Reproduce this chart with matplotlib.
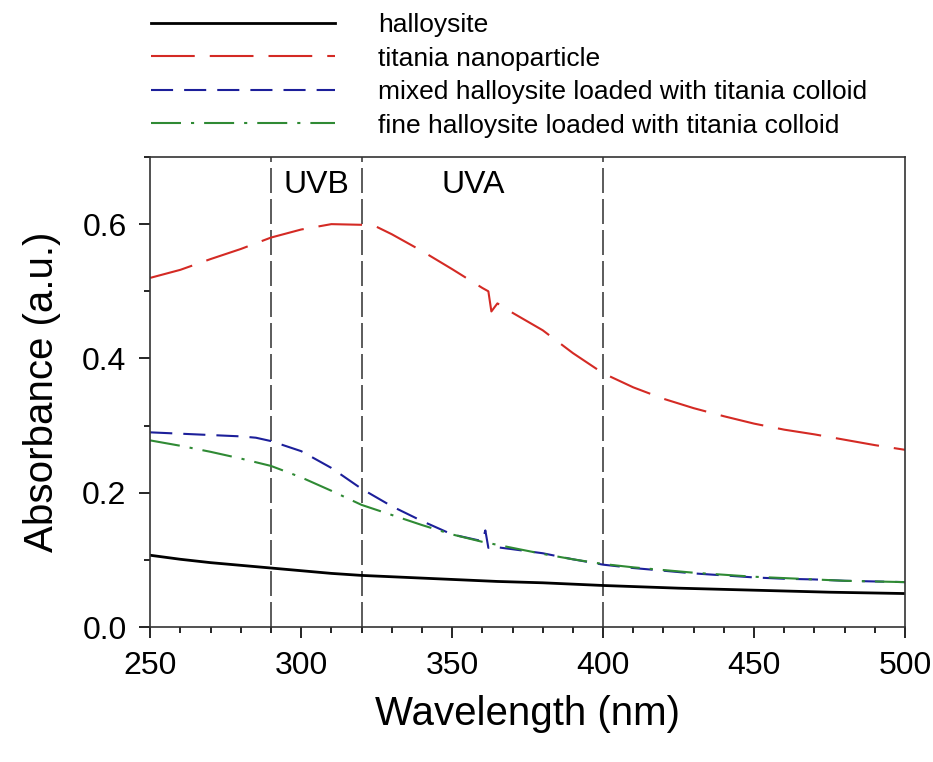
import matplotlib
matplotlib.use("Agg")
import matplotlib.pyplot as plt
from matplotlib.ticker import MultipleLocator

plt.rcParams['font.family'] = ['Liberation Sans', 'DejaVu Sans']

# halloysite
wl_hal = [250, 260, 270, 280, 290, 300, 310, 320, 335, 350, 365, 380, 400, 425, 450, 475, 500]
abs_hal = [0.107, 0.101, 0.096, 0.092, 0.088, 0.084, 0.080, 0.077, 0.074, 0.071, 0.068, 0.066, 0.062,
           0.058, 0.055, 0.052, 0.050]

# titania nanoparticle
wl_tio = [250, 260, 270, 280, 290, 300, 310, 320, 325, 330, 340, 350, 360, 362, 363, 365, 370, 380,
          390, 400, 410, 420, 430, 440, 450, 460, 470, 480, 490, 500]
abs_tio = [0.520, 0.532, 0.548, 0.563, 0.580, 0.592, 0.600, 0.599, 0.596, 0.585, 0.560, 0.533, 0.505,
           0.500, 0.470, 0.482, 0.468, 0.442, 0.408, 0.378, 0.357, 0.340, 0.326, 0.314, 0.303, 0.294,
           0.287, 0.279, 0.271, 0.264]

# mixed halloysite loaded with titania colloid
wl_mix = [250, 260, 270, 280, 285, 290, 300, 310, 320, 330, 340, 350, 360, 361, 362, 363, 370, 380,
          390, 400, 410, 420, 430, 440, 450, 460, 470, 480, 490, 500]
abs_mix = [0.290, 0.288, 0.286, 0.284, 0.282, 0.277, 0.262, 0.237, 0.206, 0.180, 0.158, 0.138, 0.128,
           0.144, 0.118, 0.120, 0.116, 0.110, 0.101, 0.093, 0.088, 0.084, 0.080, 0.077, 0.074, 0.072,
           0.071, 0.069, 0.068, 0.067]

# fine halloysite loaded with titania colloid
wl_fine = [250, 260, 270, 280, 290, 300, 310, 320, 330, 340, 350, 360, 370, 380, 390, 400, 410, 420,
           430, 440, 450, 460, 470, 480, 490, 500]
abs_fine = [0.278, 0.270, 0.261, 0.251, 0.240, 0.223, 0.203, 0.182, 0.167, 0.152, 0.138, 0.127, 0.118,
            0.109, 0.101, 0.094, 0.089, 0.085, 0.081, 0.078, 0.075, 0.073, 0.071, 0.069, 0.068, 0.067]

uv_bounds = [290, 320, 400]
uv_labels = [(305, 'UVB'), (357, 'UVA')]

fig = plt.figure(figsize=(9.33, 7.62), dpi=100)
ax = fig.add_axes([0.161, 0.177, 0.809, 0.617])

for x in uv_bounds:
    ax.axvline(x, color='0.25', lw=1.2, ls=(0, (15, 3.6)), zorder=1)

l1, = ax.plot(wl_hal, abs_hal, color='black', lw=2.0, label='halloysite')
l2, = ax.plot(wl_tio, abs_tio, color='#d42a24', lw=1.5, ls=(0, (21, 7.2)), label='titania nanoparticle')
l3, = ax.plot(wl_mix, abs_mix, color='#1c1f9a', lw=1.5, ls=(0, (10.6, 5.3)),
              label='mixed halloysite loaded with titania colloid')
l4, = ax.plot(wl_fine, abs_fine, color='#2f8a34', lw=1.5, ls=(0, (14.4, 4.8, 1.5, 4.8)),
              label='fine halloysite loaded with titania colloid')

for x, txt in uv_labels:
    ax.text(x, 0.658, txt, ha='center', va='center', fontsize=23)

ax.set_xlim(250, 500)
ax.set_ylim(0, 0.7)
ax.xaxis.set_major_locator(MultipleLocator(50))
ax.xaxis.set_minor_locator(MultipleLocator(10))
ax.yaxis.set_major_locator(MultipleLocator(0.2))
ax.yaxis.set_minor_locator(MultipleLocator(0.1))
ax.yaxis.set_major_formatter(plt.FuncFormatter(lambda v, p: '%.1f' % v))
ax.tick_params(which='both', direction='out', top=False, right=False, labelsize=23, width=1.2)
ax.tick_params(which='major', length=8, pad=9)
ax.tick_params(which='minor', length=4)
for s in ax.spines.values():
    s.set_linewidth(1.2)
    s.set_color('0.2')

ax.set_xlabel('Wavelength (nm)', fontsize=29, labelpad=10)
ax.set_ylabel('Absorbance (a.u.)', fontsize=29, labelpad=15)

fig.legend(handles=[l1, l2, l3, l4], loc='upper left', bbox_to_anchor=(0.136, 1.014),
           frameon=False, handlelength=7.0, handletextpad=1.62, labelspacing=0.36,
           prop={'family': ['Liberation Sans Narrow', 'Liberation Sans'], 'size': 19})

fig.savefig('out.png', dpi=100)
